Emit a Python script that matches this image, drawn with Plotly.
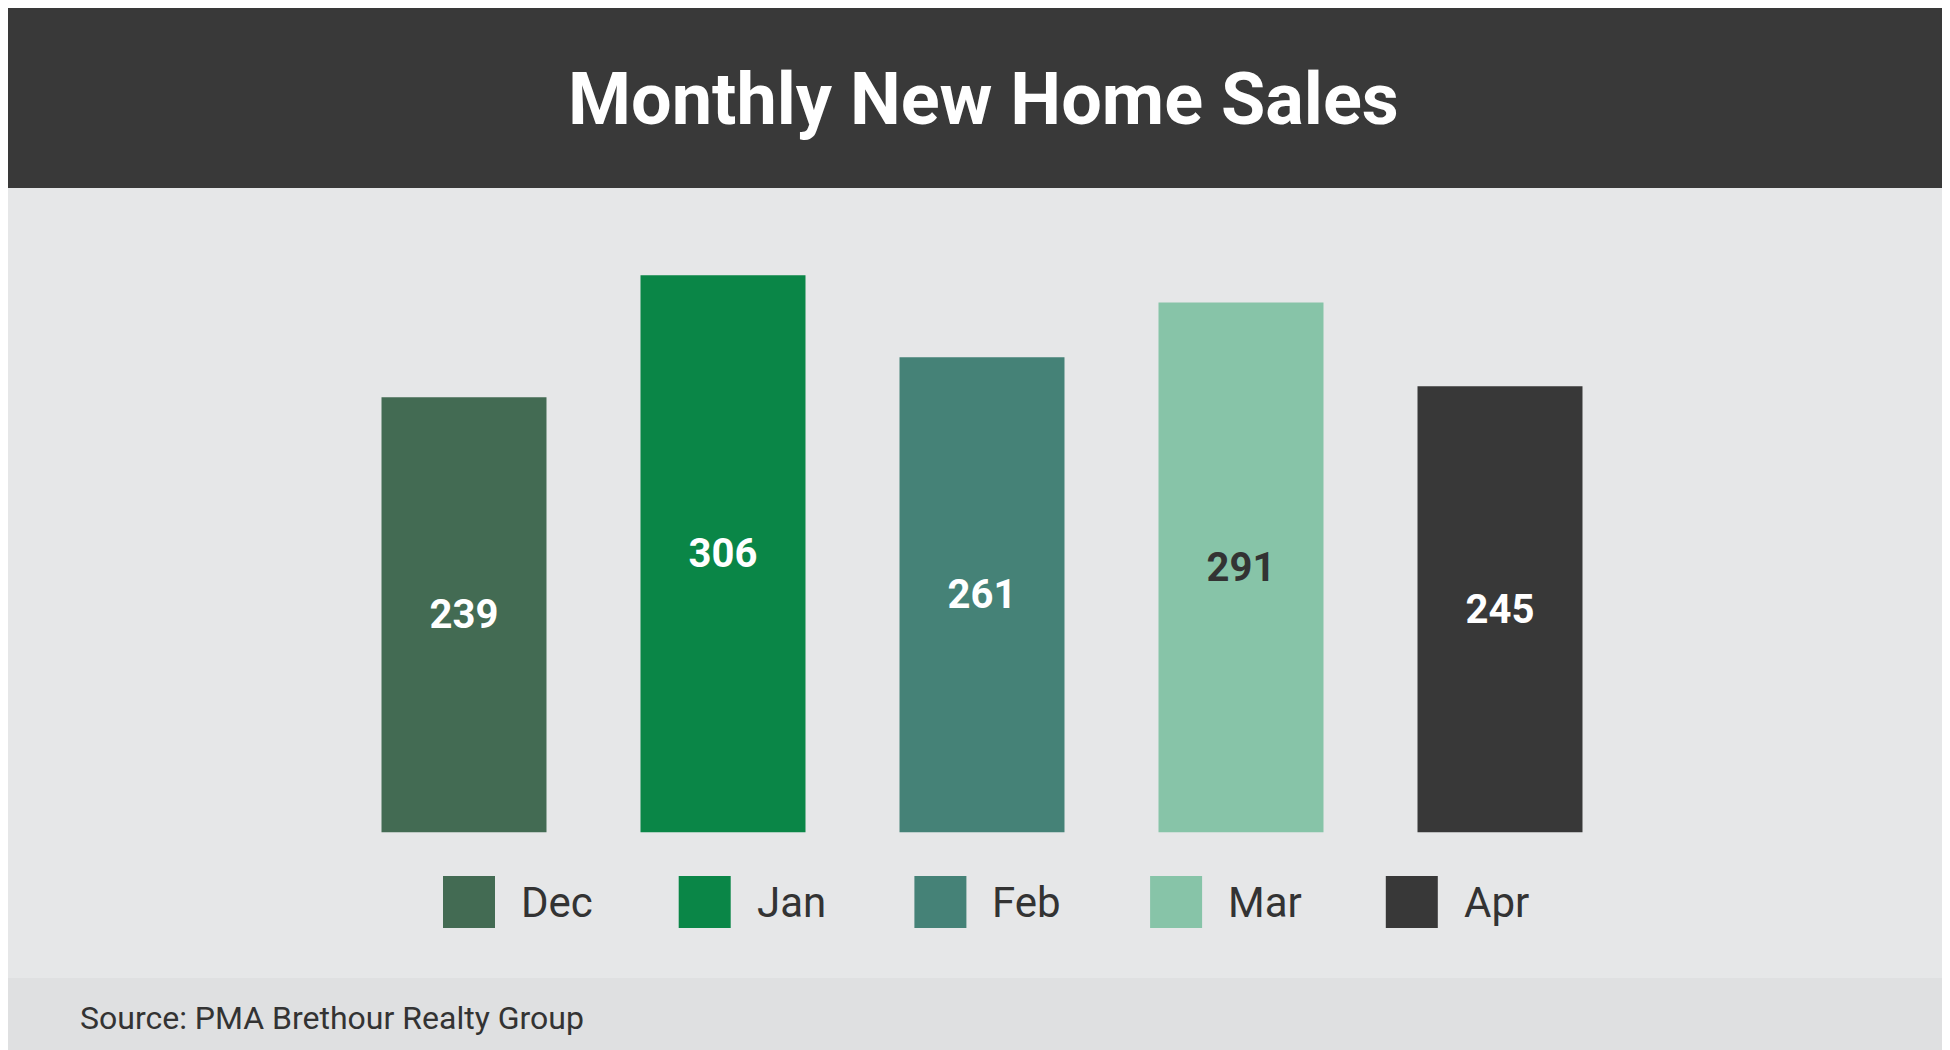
import plotly.graph_objects as go

months = ["Dec", "Jan", "Feb", "Mar", "Apr"]
sales = [239, 306, 261, 291, 245]
colors = ["#436b53", "#0a8647", "#458277", "#87c4a8", "#383838"]
label_colors = ["white", "white", "white", "#333333", "white"]

W, H = 1950, 1050
FONT = "Roboto, sans-serif"

fig = go.Figure(go.Bar(
    x=list(range(len(months))), y=sales,
    marker=dict(color=colors, line=dict(width=0)),
    width=0.637,
    text=[f"<b>{v}</b>" for v in sales],
    textposition="inside", insidetextanchor="middle",
    textfont=dict(family=FONT, size=40, color=label_colors),
    hoverinfo="skip",
))

# layout: bottom of bars at ~824px, 1.821 px per unit
plot_top, plot_bottom = 180, 824.5
y_top = (plot_bottom - plot_top) / 1.821
spacing, x0 = 259, 456

shapes = [
    dict(type="rect", xref="paper", yref="paper", x0=0, x1=1, y0=1 - 180 / H, y1=1,
         fillcolor="#393939", line_width=0, layer="below"),
    dict(type="rect", xref="paper", yref="paper", x0=0, x1=1, y0=0, y1=1 - 970 / H,
         fillcolor="#dfe0e1", line_width=0, layer="below"),
]
annotations = [
    dict(text="<b>Monthly New Home Sales</b>", xref="paper", yref="paper",
         x=0.5, y=1 - 92 / H, showarrow=False, xanchor="center", yanchor="middle",
         font=dict(family=FONT, size=72, color="white")),
    dict(text="Source: PMA Brethour Realty Group", xref="paper", yref="paper",
         x=70 / W, y=1 - 1010 / H, showarrow=False, xanchor="left", yanchor="middle",
         font=dict(family=FONT, size=32, color="#333333")),
]
# legend row
for i, (m, c) in enumerate(zip(months, colors)):
    cx = 461 + i * 235.7
    cy = 894
    shapes.append(dict(type="rect", xref="paper", yref="paper",
                       x0=(cx - 26) / W, x1=(cx + 26) / W,
                       y0=1 - (cy + 26) / H, y1=1 - (cy - 26) / H,
                       fillcolor=c, line_width=0))
    annotations.append(dict(text=m, xref="paper", yref="paper",
                            x=(cx + 50) / W, y=1 - cy / H, showarrow=False,
                            xanchor="left", yanchor="middle",
                            font=dict(family=FONT, size=42, color="#333333")))

fig.update_layout(
    width=W, height=H,
    margin=dict(l=0, r=0, t=0, b=0),
    paper_bgcolor="#e6e7e8", plot_bgcolor="rgba(0,0,0,0)",
    showlegend=False,
    xaxis=dict(range=[-x0 / spacing, (W - x0) / spacing], visible=False),
    yaxis=dict(range=[0, y_top], visible=False,
               domain=[1 - plot_bottom / H, 1 - plot_top / H]),
    shapes=shapes, annotations=annotations,
)

fig.write_html("out.html")
